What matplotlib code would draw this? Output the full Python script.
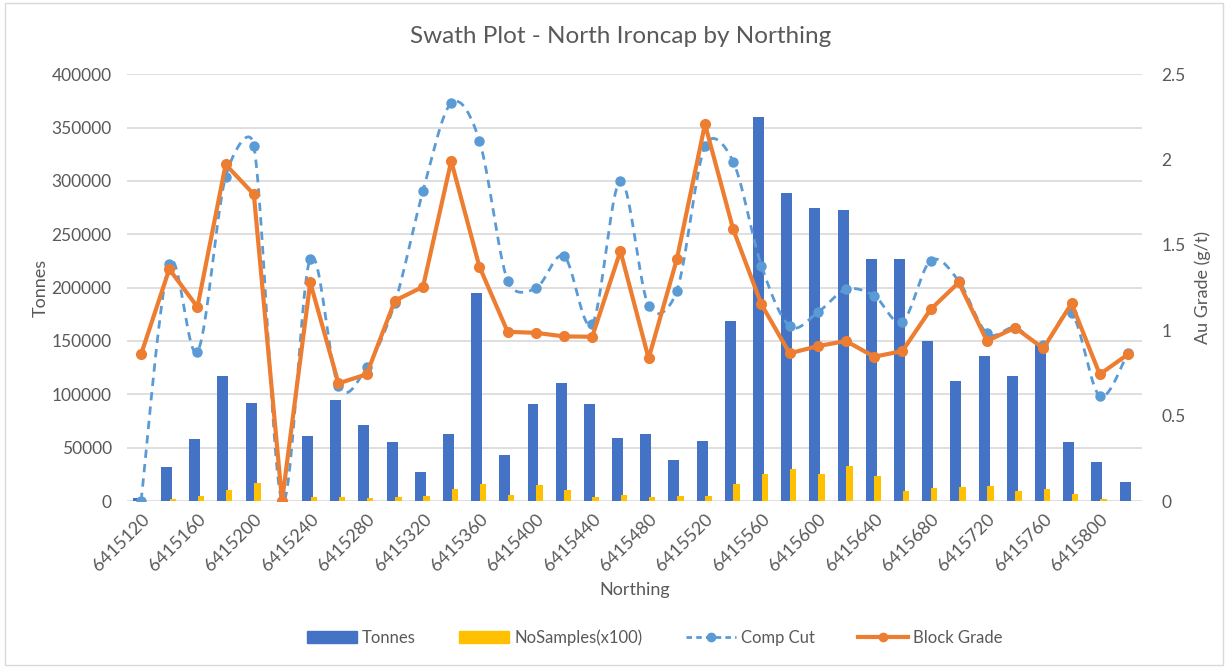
import numpy as np
import matplotlib.pyplot as plt
from matplotlib.lines import Line2D
from matplotlib.patches import Patch, Rectangle

plt.rcParams['font.family'] = ['Lato', 'DejaVu Sans']

NORTHING = [6415120 + 20 * i for i in range(36)]

TONNES = [3000, 32000, 58000, 117000, 92000, 0, 61000, 95000, 71000, 55000,
          27000, 63000, 195000, 43000, 91000, 111000, 91000, 59000, 63000, 38000,
          56000, 169000, 360000, 289000, 275000, 273000, 227000, 227000, 150000, 112000,
          136000, 117000, 147000, 55000, 37000, 18000]

NOSAMPLES = [0, 1500, 5000, 10300, 17100, 0, 3400, 3400, 2500, 3400,
             4400, 11200, 15600, 5900, 14700, 10300, 4000, 5900, 4000, 5000,
             5000, 15600, 25000, 30000, 25600, 32800, 23400, 9400, 11900, 12800,
             13800, 9400, 11000, 6600, 1500, 0]

COMP_CUT = [0.0, 1.39, 0.874, 1.90, 2.08, 0.0, 1.42, 0.673, 0.783, 1.16,
            1.815, 2.33, 2.11, 1.29, 1.245, 1.434, 1.036, 1.875, 1.142, 1.23,
            2.078, 1.987, 1.378, 1.025, 1.105, 1.239, 1.202, 1.05, 1.407, 1.288,
            0.982, 1.015, 0.913, 1.099, 0.615, 0.868]

BLOCK_GRADE = [0.859, 1.358, 1.136, 1.971, 1.796, 0.0, 1.28, 0.689, 0.742, 1.173,
               1.255, 1.991, 1.372, 0.991, 0.985, 0.964, 0.962, 1.464, 0.835, 1.415,
               2.207, 1.591, 1.152, 0.865, 0.907, 0.937, 0.845, 0.878, 1.122, 1.28,
               0.937, 1.015, 0.894, 1.157, 0.742, 0.859]

GREY = '#595959'


def smooth(x, y, sx, sy, n=24, k=0.6):
    # smoothed line through the points (bezier, tangents clipped per segment)
    # sx, sy: pixels per data unit so the clipping works in screen space
    P = np.column_stack([np.asarray(x, float) * sx, np.asarray(y, float) * sy])
    m = len(P)
    T = np.array([(P[min(i + 1, m - 1)] - P[max(i - 1, 0)]) / 6 for i in range(m)])
    out = []
    for i in range(m - 1):
        p0, p3 = P[i], P[i + 1]
        L = np.hypot(*(p3 - p0))
        t0, t1 = T[i].copy(), T[i + 1].copy()
        for t in (t0, t1):
            mag = np.hypot(*t)
            if mag > k * L:
                t *= k * L / mag
        c1, c2 = p0 + t0, p3 - t1
        s = np.linspace(0, 1, n)[:, None]
        out.append((1 - s) ** 3 * p0 + 3 * (1 - s) ** 2 * s * c1
                   + 3 * (1 - s) * s ** 2 * c2 + s ** 3 * p3)
    out = np.vstack(out)
    return out[:, 0] / sx, out[:, 1] / sy


fig = plt.figure(figsize=(12.28, 6.68), dpi=100)
fig.patches.append(Rectangle((0.004, 0.004), 0.992, 0.992, transform=fig.transFigure,
                             fill=False, edgecolor='#D9D9D9', lw=1))
ax = fig.add_axes([0.1034, 0.25, 0.8266, 0.639])
ax2 = ax.twinx()

X = np.arange(len(NORTHING))
ax.bar(X - 0.1, TONNES, 0.39, color='#4472C4', zorder=2)
ax.bar(X + 0.125, NOSAMPLES, 0.23, color='#FFC000', zorder=3)

ax.set_xlim(-0.5, len(X) - 0.5)
ax.set_ylim(0, 400000)
ax.set_yticks(np.arange(0, 400001, 50000))
ax.grid(axis='y', color='#D9D9D9', lw=1.2, zorder=0)
ax.set_axisbelow(True)
ax.set_xticks(X[::2])
ax.set_xticklabels([str(n) for n in NORTHING[::2]], rotation=45, ha='right',
                   rotation_mode='anchor')

ax2.set_ylim(0, 2.5)
ax2.set_yticks([0, 0.5, 1, 1.5, 2, 2.5])
ax2.set_yticklabels(['0', '0.5', '1', '1.5', '2', '2.5'])

sx, sy = smooth(X, COMP_CUT, 28.2, 170.8)
ax2.plot(sx, sy, color='#5B9BD5', lw=2, ls=(0, (3, 2.2)), zorder=4)
ax2.plot(X, COMP_CUT, 'o', color='#5B9BD5', ms=6.5, zorder=4)
ax2.plot(X, BLOCK_GRADE, '-o', color='#ED7D31', lw=3, ms=7, zorder=5)

for a in (ax, ax2):
    for s in a.spines.values():
        s.set_visible(False)
    a.tick_params(length=0, colors=GREY, labelsize=12.5)
ax.tick_params(axis='x', pad=7, labelsize=13)
ax.tick_params(axis='y', pad=11)
ax2.tick_params(axis='y', pad=14)

ax.set_ylabel('Tonnes', color=GREY, fontsize=13, labelpad=2)
ax2.set_ylabel('Au Grade (g/t)', color=GREY, fontsize=13, labelpad=6)
ax.set_xlabel('Northing', color=GREY, fontsize=13, labelpad=6)
fig.text(0.505, 0.946, 'Swath Plot - North Ironcap by Northing', ha='center',
         va='center', fontsize=17.5, color=GREY)

handles = [Patch(color='#4472C4'), Patch(color='#FFC000'),
           Line2D([], [], color='#5B9BD5', lw=2, ls=(0, (2, 1.5)), marker='o', ms=6),
           Line2D([], [], color='#ED7D31', lw=3, marker='o', ms=6)]
fig.legend(handles, ['Tonnes', 'NoSamples(x100)', 'Comp Cut', 'Block Grade'],
           loc='center', bbox_to_anchor=(0.533, 0.046), ncol=4, frameon=False,
           fontsize=12, labelcolor=GREY, columnspacing=2.6, handlelength=3.0,
           handletextpad=0.3)

fig.savefig('out.png', dpi=100)
